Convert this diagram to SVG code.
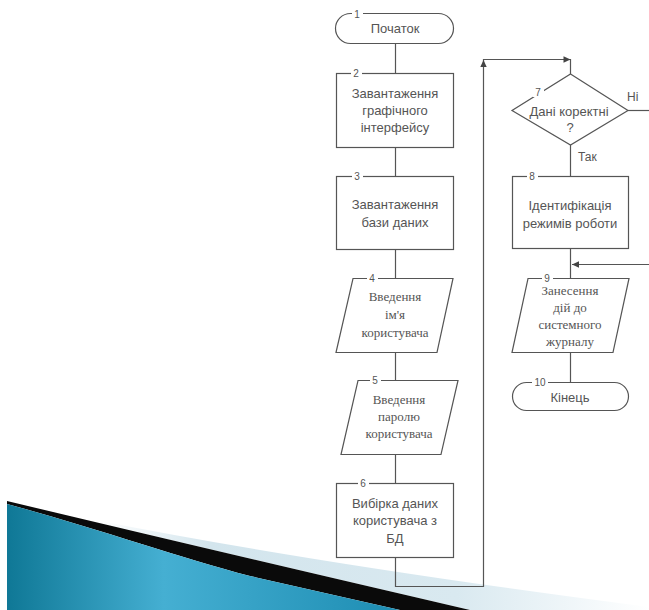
<svg xmlns="http://www.w3.org/2000/svg" width="649" height="610" viewBox="0 0 649 610">
<defs>
<style>
.sh{fill:#fff;stroke:#555;stroke-width:1.2}
.ln{fill:none;stroke:#555;stroke-width:1.2}
.t{font-family:"Liberation Sans",Arial,sans-serif;font-size:13px;fill:#555;text-anchor:middle}
.s{font-family:"Liberation Serif","Times New Roman",serif;font-size:13px;fill:#555;text-anchor:middle}
.n{font-family:"Liberation Sans",Arial,sans-serif;font-size:10px;fill:#555;text-anchor:middle}
.lb{font-family:"Liberation Sans",Arial,sans-serif;font-size:12px;fill:#555}
.nb{fill:#fff}
</style>
<path id="ah" d="M0,0 L-7,-3.2 L-7,3.2 Z" fill="#444"/>
<linearGradient id="blue" x1="7" y1="0" x2="420" y2="0" gradientUnits="userSpaceOnUse">
<stop offset="0" stop-color="#0f7896"/>
<stop offset="0.38" stop-color="#45afd2"/>
<stop offset="1" stop-color="#1a8ab0"/>
</linearGradient>
<linearGradient id="pale" x1="100" y1="0" x2="649" y2="0" gradientUnits="userSpaceOnUse">
<stop offset="0" stop-color="#ffffff"/>
<stop offset="0.2" stop-color="#d3e5ed"/>
<stop offset="0.65" stop-color="#d9e9f0"/>
<stop offset="1" stop-color="#ffffff"/>
</linearGradient>
</defs>
<rect width="649" height="610" fill="#fff"/>

<g id="decor">
<path d="M100,521 Q330,566 649,607 L649,610 L470,610 Q220,552 7,501 Z" fill="url(#pale)"/>
<path d="M7,501 Q220,552 470,610 L400,610 L250,576 C180,558 90,526 7,504 Z" fill="#0a0a0a"/>
<path d="M7,504 C90,526 180,558 250,576 L400,610 L7,610 Z" fill="url(#blue)"/>
</g>

<g id="connectors">
<path class="ln" d="M395.5,43.5 V73.5"/>
<path class="ln" d="M395.5,147.5 V176.5"/>
<path class="ln" d="M395.5,249.5 V278.5"/>
<path class="ln" d="M395.5,352.5 V380.5"/>
<path class="ln" d="M395.5,454.5 V483.5"/>
<path class="ln" d="M395.5,557.5 V586.5 H483.5 V59.5 H570.5 V74"/>
<use href="#ah" transform="translate(483.5,60) rotate(-90)"/>
<use href="#ah" transform="translate(570.5,59.5)"/>
<path class="ln" d="M570.5,145 V176.5"/>
<path class="ln" d="M628,110.5 H649"/>
<path class="ln" d="M570.5,248.5 V278.5"/>
<path class="ln" d="M649,264.5 H572"/>
<use href="#ah" transform="translate(572,264.5) rotate(180)"/>
<path class="ln" d="M570.5,352.5 V382.5"/>
<text class="lb" x="627" y="101">Ні</text>
<text class="lb" x="578" y="161">Так</text>
</g>

<g id="n1">
<rect class="sh" x="335.5" y="13.5" width="118" height="30" rx="15"/>
<rect class="nb" x="352" y="8" width="11" height="11"/>
<text class="n" x="357" y="17.5">1</text>
<text class="t" x="395" y="33">Початок</text>
</g>

<g id="n2">
<rect class="sh" x="336.5" y="73.5" width="117" height="74"/>
<rect class="nb" x="351" y="68" width="11" height="11"/>
<text class="n" x="356" y="77">2</text>
<text class="t" x="395" y="97.5">Завантаження</text>
<text class="t" x="395" y="114.5">графічного</text>
<text class="t" x="395" y="131.5">інтерфейсу</text>
</g>

<g id="n3">
<rect class="sh" x="336.5" y="176.5" width="117" height="73"/>
<rect class="nb" x="352" y="171" width="11" height="11"/>
<text class="n" x="357" y="180">3</text>
<text class="t" x="395" y="208.5">Завантаження</text>
<text class="t" x="395" y="226.5">бази даних</text>
</g>

<g id="n4">
<polygon class="sh" points="353,278.5 453,278.5 437,352.5 336,352.5"/>
<rect class="nb" x="367" y="273" width="11" height="11"/>
<text class="n" x="372" y="282">4</text>
<text class="s" x="395" y="301">Введення</text>
<text class="s" x="395" y="319">ім'я</text>
<text class="s" x="395" y="337">користувача</text>
</g>

<g id="n5">
<polygon class="sh" points="358,380.5 458,380.5 441,454.5 341,454.5"/>
<rect class="nb" x="370" y="375" width="11" height="11"/>
<text class="n" x="375" y="384">5</text>
<text class="s" x="399" y="404">Введення</text>
<text class="s" x="399" y="421">паролю</text>
<text class="s" x="399" y="438">користувача</text>
</g>

<g id="n6">
<rect class="sh" x="336.5" y="483.5" width="117" height="74"/>
<rect class="nb" x="358" y="478" width="11" height="11"/>
<text class="n" x="363" y="487">6</text>
<text class="t" x="395" y="507.5">Вибірка даних</text>
<text class="t" x="395" y="524.5">користувача з</text>
<text class="t" x="395" y="542.5">БД</text>
</g>

<g id="n7">
<polygon class="sh" points="570.5,74 628,110.5 570.5,145 512,110.5"/>
<rect class="nb" x="533" y="86" width="11" height="11"/>
<text class="n" x="538" y="95.5">7</text>
<text class="t" x="569" y="116">Дані коректні</text>
<text class="t" x="570" y="132">?</text>
</g>

<g id="n8">
<rect class="sh" x="512.5" y="176.5" width="116" height="72"/>
<rect class="nb" x="527" y="171" width="11" height="11"/>
<text class="n" x="532" y="180">8</text>
<text class="t" x="570" y="209.5">Ідентифікація</text>
<text class="t" x="570" y="227.5">режимів роботи</text>
</g>

<g id="n9">
<polygon class="sh" points="528,278.5 629,278.5 613,352.5 512,352.5"/>
<rect class="nb" x="542" y="273" width="11" height="11"/>
<text class="n" x="547" y="282">9</text>
<text class="s" x="570" y="294.5">Занесення</text>
<text class="s" x="570" y="311.5">дій до</text>
<text class="s" x="570" y="328.5">системного</text>
<text class="s" x="570" y="345.5">журналу</text>
</g>

<g id="n10">
<rect class="sh" x="512.5" y="382.5" width="116" height="28" rx="14"/>
<rect class="nb" x="532" y="377" width="16" height="11"/>
<text class="n" x="540" y="386">10</text>
<text class="t" x="570" y="401.5">Кінець</text>
</g>
</svg>
